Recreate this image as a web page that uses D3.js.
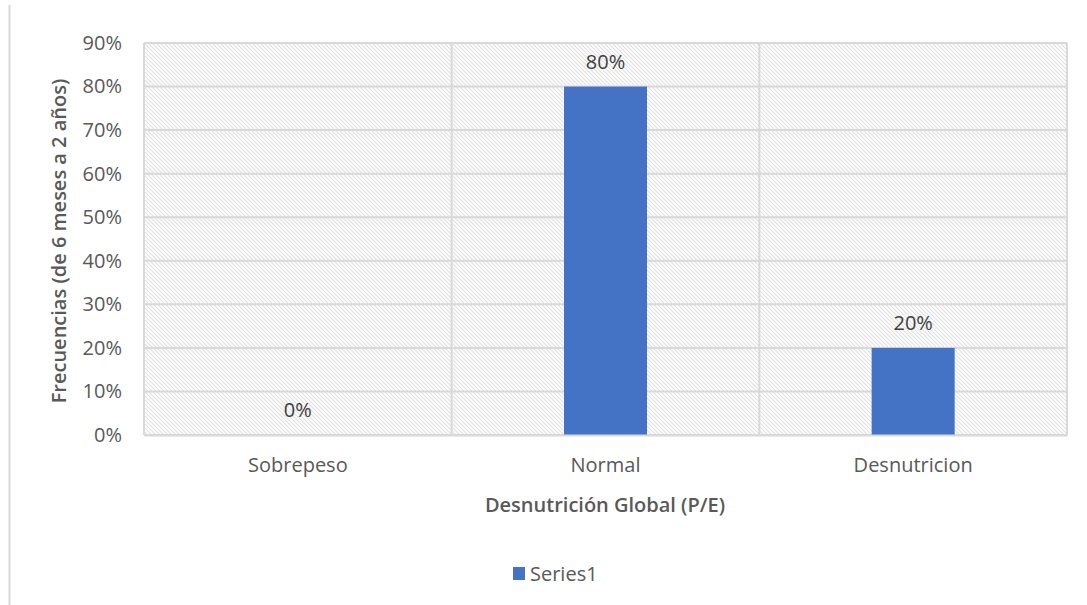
<!DOCTYPE html>
<html>
<head>
<meta charset="utf-8">
<script src="https://cdn.jsdelivr.net/npm/d3@7"></script>
<style>
  body { margin: 0; background: #fff; }
  text { font-family: "Open Sans", sans-serif; fill: #595959; }
</style>
</head>
<body>
<div id="chart"></div>
<script>
// data
var categories = ["Sobrepeso", "Normal", "Desnutricion"];
var values = [0, 0.8, 0.2];
var yTicks = [0, 0.1, 0.2, 0.3, 0.4, 0.5, 0.6, 0.7, 0.8, 0.9];
var seriesName = "Series1";
var xTitle = "Desnutrición Global (P/E)";
var yTitle = "Frecuencias (de 6 meses a 2 años)";

var W = 1087, H = 605;
var fs = "20px";
var margin = {top: 43, right: 20, bottom: 170, left: 144},
    width = 1067 - margin.left,
    height = 435 - margin.top;

var svg = d3.select("#chart").append("svg")
    .attr("width", W).attr("height", H);

// hatch pattern for the plot area
var defs = svg.append("defs");
var pat = defs.append("pattern")
    .attr("id", "hatch")
    .attr("patternUnits", "userSpaceOnUse")
    .attr("width", 4).attr("height", 4);
pat.append("rect").attr("width", 4).attr("height", 4).attr("fill", "#fff");
pat.append("path")
    .attr("d", "M-1,-1 L5,5 M-1,3 L1,5 M3,-1 L5,1")
    .attr("stroke", "#e0e0e0").attr("stroke-width", 1.1);

// chart area border (left edge visible)
svg.append("line")
    .attr("x1", 9.5).attr("x2", 9.5).attr("y1", 5).attr("y2", H)
    .attr("stroke", "#d9d9d9").attr("stroke-width", 2);

var g = svg.append("g")
    .attr("transform", "translate(" + margin.left + "," + margin.top + ")");

var x = d3.scaleBand().domain(categories).range([0, width]).paddingInner(0).paddingOuter(0);
var y = d3.scaleLinear().domain([0, 0.9]).range([height, 0]);

g.append("rect")
    .attr("width", width).attr("height", height)
    .attr("fill", "url(#hatch)");

// horizontal gridlines
g.append("g").selectAll("line")
    .data(yTicks)
    .enter().append("line")
    .attr("x1", 0).attr("x2", width)
    .attr("y1", d => y(d)).attr("y2", d => y(d))
    .attr("stroke", "#d9d9d9").attr("stroke-width", 2);

// vertical gridlines at category boundaries
var bounds = categories.map(c => x(c)).concat([width]);
g.append("g").selectAll("line")
    .data(bounds)
    .enter().append("line")
    .attr("x1", d => d).attr("x2", d => d)
    .attr("y1", 0).attr("y2", height)
    .attr("stroke", "#d9d9d9").attr("stroke-width", 2);

// bars
var barW = 83;
g.append("g").selectAll("rect")
    .data(values)
    .enter().append("rect")
    .attr("x", (d, i) => x(categories[i]) + x.bandwidth() / 2 - barW / 2)
    .attr("y", d => y(d))
    .attr("width", barW)
    .attr("height", d => height - y(d))
    .attr("fill", "#4472c4");

// data labels
g.append("g").selectAll("text")
    .data(values)
    .enter().append("text")
    .attr("x", (d, i) => x(categories[i]) + x.bandwidth() / 2)
    .attr("y", d => y(d) - 18)
    .attr("text-anchor", "middle")
    .style("font-size", fs)
    .style("fill", "#404040")
    .text(d => d3.format(".0%")(d));

// y axis
var yAxis = g.append("g")
    .call(d3.axisLeft(y).tickValues(yTicks).tickFormat(d3.format(".0%")).tickSize(0).tickPadding(22));
yAxis.select(".domain").remove();
yAxis.selectAll("text").style("font-size", fs).style("fill", "#595959")
    .style("font-family", "'Open Sans', sans-serif");

// x axis
var xAxis = g.append("g")
    .attr("transform", "translate(0," + height + ")")
    .call(d3.axisBottom(x).tickSize(0).tickPadding(23));
xAxis.select(".domain").attr("stroke", "#d9d9d9").attr("stroke-width", 2);
xAxis.selectAll("text").style("font-size", fs).style("fill", "#595959")
    .style("font-family", "'Open Sans', sans-serif");

// axis titles
svg.append("text")
    .attr("x", 605).attr("y", 512)
    .attr("text-anchor", "middle")
    .style("font-size", fs).style("font-weight", "600")
    .text(xTitle);

svg.append("text")
    .attr("transform", "translate(66,241) rotate(-90)")
    .attr("text-anchor", "middle")
    .style("font-size", fs).style("font-weight", "600")
    .text(yTitle);

// legend
var leg = svg.append("g").attr("transform", "translate(513,567)");
leg.append("rect").attr("width", 12).attr("height", 13).attr("fill", "#4472c4");
leg.append("text").attr("x", 17).attr("y", 14)
    .style("font-size", fs).text(seriesName);
</script>
</body>
</html>
